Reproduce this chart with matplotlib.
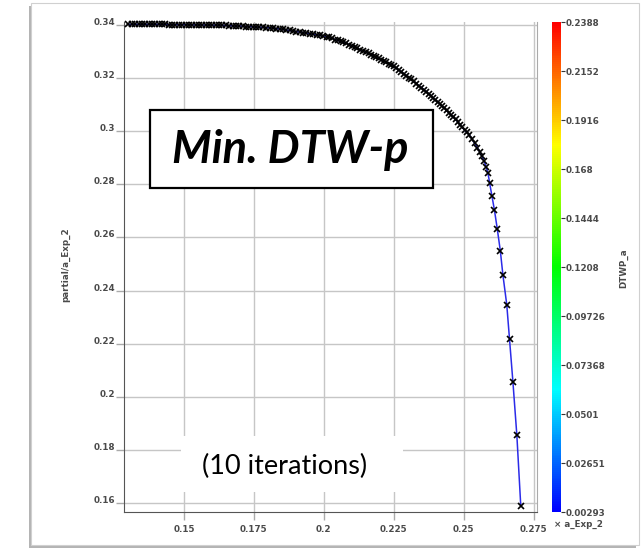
import matplotlib
matplotlib.use('Agg')
import matplotlib.pyplot as plt
from matplotlib.colors import LinearSegmentedColormap, Normalize
from matplotlib.patches import Rectangle
import matplotlib.cm as cm

# a_Exp_2 values (x) and partial/a_Exp_2 values (y)
a_exp2 = [0.1302, 0.1314, 0.1326, 0.1338, 0.1350, 0.1362, 0.1374, 0.1386, 0.1398, 0.1410,
          0.1422, 0.1434, 0.1446, 0.1458, 0.1470, 0.1482, 0.1494, 0.1506, 0.1518, 0.1530,
          0.1542, 0.1554, 0.1566, 0.1578, 0.1590, 0.1602, 0.1614, 0.1626, 0.1638, 0.1650,
          0.1662, 0.1674, 0.1686, 0.1698, 0.1710, 0.1722, 0.1734, 0.1746, 0.1758, 0.1770,
          0.1782, 0.1794, 0.1806, 0.1818, 0.1830, 0.1842, 0.1854, 0.1866, 0.1878, 0.1890,
          0.1902, 0.1914, 0.1926, 0.1938, 0.1950, 0.1962, 0.1974, 0.1986, 0.1998,
          0.2010, 0.2020, 0.2030, 0.2040, 0.2050, 0.2060, 0.2070, 0.2080, 0.2090, 0.2100,
          0.2110, 0.2120, 0.2130, 0.2140, 0.2150, 0.2160,
          0.2169, 0.2178, 0.2187, 0.2196, 0.2205, 0.2214, 0.2223, 0.2232, 0.2241, 0.2250,
          0.2259, 0.2268, 0.2277, 0.2286, 0.2295, 0.2304, 0.2313, 0.2322, 0.2331, 0.2340,
          0.2349, 0.2358, 0.2367,
          0.2375, 0.2383, 0.2391, 0.2399, 0.2407, 0.2415, 0.2423, 0.2431, 0.2439, 0.2447,
          0.2455, 0.2463, 0.2471, 0.2479, 0.2487, 0.2495, 0.2503, 0.2511,
          0.2519, 0.2530, 0.2539, 0.2549, 0.2557, 0.2565, 0.2573, 0.2580, 0.2587,
          0.2593, 0.2601, 0.2610, 0.2620, 0.2631, 0.2640, 0.2654, 0.2664, 0.2676, 0.2690,
          0.2704]
partial_a = [0.3402, 0.3402, 0.3402, 0.3402, 0.3402, 0.3402, 0.3402, 0.3402, 0.3402, 0.3402,
             0.3402, 0.3402, 0.3401, 0.3401, 0.3401, 0.3401, 0.3401, 0.3401, 0.3401, 0.3400,
             0.3400, 0.3400, 0.3400, 0.3399, 0.3399, 0.3399, 0.3399, 0.3398, 0.3398, 0.3398,
             0.3397, 0.3397, 0.3396, 0.3396, 0.3395, 0.3394, 0.3394, 0.3393, 0.3392, 0.3391,
             0.3391, 0.3390, 0.3389, 0.3388, 0.3386, 0.3385, 0.3383, 0.3381, 0.3379, 0.3377,
             0.3375, 0.3373, 0.3371, 0.3369, 0.3367, 0.3365, 0.3363, 0.3361, 0.3359,
             0.3356, 0.3353, 0.3349, 0.3345, 0.3342, 0.3338, 0.3334, 0.3331, 0.3326, 0.3321,
             0.3317, 0.3312, 0.3307, 0.3302, 0.3298, 0.3293,
             0.3288, 0.3283, 0.3279, 0.3274, 0.3269, 0.3264, 0.3259, 0.3254, 0.3249, 0.3244,
             0.3237, 0.3230, 0.3223, 0.3216, 0.3209, 0.3202, 0.3195, 0.3187, 0.3179, 0.3171,
             0.3164, 0.3156, 0.3148,
             0.3140, 0.3133, 0.3125, 0.3117, 0.3110, 0.3102, 0.3094, 0.3086, 0.3078, 0.3069,
             0.3061, 0.3053, 0.3045, 0.3035, 0.3025, 0.3014, 0.3004, 0.2996,
             0.2987, 0.2970, 0.2955, 0.2938, 0.2923, 0.2906, 0.2887, 0.2866, 0.2841,
             0.2803, 0.2755, 0.2702, 0.2632, 0.2549, 0.2460, 0.2346, 0.2216, 0.2055, 0.1855,
             0.1589]

xticks = [0.15, 0.175, 0.2, 0.225, 0.25, 0.275]
xticklabels = ['0.15', '0.175', '0.2', '0.225', '0.25', '0.275']
yticks = [0.16, 0.18, 0.2, 0.22, 0.24, 0.26, 0.28, 0.3, 0.32, 0.34]
yticklabels = ['0.16', '0.18', '0.2', '0.22', '0.24', '0.26', '0.28', '0.3', '0.32', '0.34']
cb_ticks = [0.00293, 0.02651, 0.0501, 0.07368, 0.09726, 0.1208, 0.1444, 0.168, 0.1916, 0.2152, 0.2388]
cb_labels = ['0.00293', '0.02651', '0.0501', '0.07368', '0.09726', '0.1208', '0.1444',
             '0.168', '0.1916', '0.2152', '0.2388']

W, H = 641, 549
fig = plt.figure(figsize=(W / 100, H / 100), dpi=100)


def box(x0, y0, x1, y1):
    # pixel box (top-down) -> figure fraction
    return [x0 / W, 1 - y1 / H, (x1 - x0) / W, (y1 - y0) / H]


def rect(x0, y0, x1, y1, **kw):
    l, b, w, h = box(x0, y0, x1, y1)
    fig.add_artist(Rectangle((l, b), w, h, transform=fig.transFigure, **kw))


# frame with a bit of shadow
rect(29, 6, 636, 548, facecolor='#b4b4b4', edgecolor='none', zorder=-3)
rect(31, 3, 639, 545, facecolor='white', edgecolor='#d0d0d0', lw=0.8, zorder=-2)

ax = fig.add_axes(box(124, 22, 537, 512))
ax.plot(a_exp2, partial_a, color='#2b2be8', lw=1.1, marker='x', ms=5,
        mec='black', mew=1.2, zorder=3, clip_on=False)
ax.set_xlim(0.1286, 0.2762)
ax.set_ylim(0.1566, 0.3411)
ax.set_xticks(xticks)
ax.set_xticklabels(xticklabels)
ax.set_yticks(yticks)
ax.set_yticklabels(yticklabels)
for lab in ax.get_yticklabels() + ax.get_xticklabels():
    lab.set_fontweight('bold')
for lab in ax.get_yticklabels():
    lab.set_va('baseline')
ax.grid(True, color='#c6c6c6', lw=1)
ax.tick_params(length=6, width=1, color='#aaaaaa', labelsize=6.3, labelcolor='#4a4a4a')
ax.tick_params(axis='y', pad=0.5)
ax.tick_params(axis='x', pad=3)
ax.spines['top'].set_visible(False)
ax.spines['left'].set_color('#555555')
ax.spines['bottom'].set_color('#555555')
ax.spines['right'].set_color('#aaaaaa')

cmap = LinearSegmentedColormap.from_list('rb', ['#0000ff', '#00ffff', '#00ff00', '#ffff00', '#ff0000'])
cax = fig.add_axes(box(552, 22, 561, 512))
cb = fig.colorbar(cm.ScalarMappable(norm=Normalize(cb_ticks[0], cb_ticks[-1]), cmap=cmap), cax=cax)
cb.outline.set_visible(False)
cb.set_ticks(cb_ticks)
cb.set_ticklabels(cb_labels)
cax.tick_params(length=3, width=0.8, color='#333333', pad=0.5, labelsize=6.3, labelcolor='#4a4a4a')
for lab in cax.get_yticklabels():
    lab.set_fontweight('bold')

lab_kw = dict(fontsize=6.3, color='#4a4a4a', ha='center', va='center', fontweight='bold')
fig.text(66 / W, 1 - 265 / H, 'partial/a_Exp_2', rotation=90, **lab_kw)
fig.text(624 / W, 1 - 268 / H, 'DTWP_a', rotation=90, **lab_kw)
fig.text(578 / W, 1 - 524 / H, '× a_Exp_2', **lab_kw)

# annotation boxes
rect(150, 110, 433, 188, facecolor='white', edgecolor='black', lw=1.6, zorder=5)
fig.text(290 / W, 1 - 150 / H, 'Min. DTW-p', family='Lato', fontsize=32.5,
         fontweight='bold', fontstyle='italic', ha='center', va='center', zorder=6)
rect(181, 436, 403, 492, facecolor='white', edgecolor='none', zorder=5)
fig.text(285 / W, 1 - 466 / H, '(10 iterations)', family='Lato', fontsize=19.5,
         ha='center', va='center', zorder=6)

fig.savefig('out.png', dpi=100)
